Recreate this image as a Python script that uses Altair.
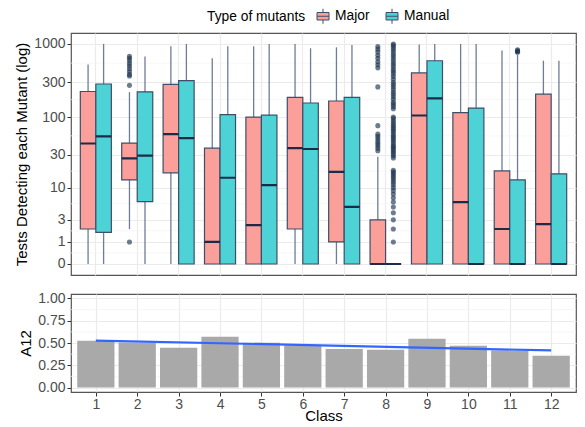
import altair as alt
import pandas as pd

classes = list(range(1, 13))
types = ["Major", "Manual"]

# boxplot summary statistics
major_lo = [0, 2, 0, 0, 0, 0, 0, 0, 0, 0, 0, 0]
major_q1 = [2, 13, 16.5, 0, 0, 2, 1, 0, 0, 0, 0, 0]
major_med = [43, 26.5, 58, 1, 2.4, 37, 17, 0, 105, 6, 2, 2.5]
major_q3 = [224, 43.5, 281, 37, 100, 186, 166, 3, 403, 115, 17.6, 206]
major_hi = [523, 220, 928, 640, 930, 1000, 900, 28, 985, 1000, 818, 592]

manual_lo = [0, 0, 0, 0, 0, 0, 0, 0, 0, 0, 0, 0]
manual_q1 = [1.7, 6.1, 0, 0, 0, 0, 0, 0, 0, 0, 0, 0]
manual_med = [54, 29, 51, 14, 10.9, 36, 5, 0, 180, 0, 0, 0]
manual_q3 = [284, 222, 315, 108, 106, 156, 186, 0, 590, 133, 13, 16]
manual_hi = [1000, 677, 1000, 928, 1000, 875, 968, 0, 1000, 1000, 710, 592]

# outliers
out_c2_major = [1, 272, 365, 384, 420, 460, 500, 540, 590, 640, 677]
out_c8_major = [34, 37, 40, 43, 46, 50, 54, 58, 76, 259, 472, 520, 570, 640, 700, 780, 850, 925]
out_c8_manual = [1, 2, 3, 4, 5, 6, 7, 8, 9, 10, 11, 12, 13, 14, 15, 16, 17, 18,
                 27, 29, 31, 33, 35, 37, 39, 41, 44, 47, 50, 53, 56, 60, 64, 68, 72, 77,
                 82, 88, 95, 100, 130, 140, 150, 160, 175, 190, 205, 220, 240, 260, 280,
                 300, 330, 360, 390, 420, 450, 490, 530, 570, 620, 670, 720, 780, 840,
                 900, 960, 1000]
out_c11_manual = [770, 790, 810, 830]

# A12 effect size per class
a12 = [0.524, 0.505, 0.446, 0.569, 0.502, 0.476, 0.434, 0.423, 0.547, 0.468, 0.416, 0.356]

y_ticks = [0, 1, 3, 10, 30, 100, 300, 1000]
y_minor = [0.414, 1.83, 5.63, 17.47, 54.97, 173.4, 548]
a_ticks = [0, 0.25, 0.5, 0.75, 1.0]
a_minor = [0.125, 0.375, 0.625, 0.875]

rows = []
for i, c in enumerate(classes):
    rows.append(dict(cls=c, type="Major", lo=major_lo[i], q1=major_q1[i], med=major_med[i],
                     q3=major_q3[i], hi=major_hi[i]))
    rows.append(dict(cls=c, type="Manual", lo=manual_lo[i], q1=manual_q1[i], med=manual_med[i],
                     q3=manual_q3[i], hi=manual_hi[i]))
box_df = pd.DataFrame(rows)

orows = []
for v in out_c2_major:
    orows.append(dict(cls=2, type="Major", v=v))
for v in out_c8_major:
    orows.append(dict(cls=8, type="Major", v=v))
for v in out_c8_manual:
    orows.append(dict(cls=8, type="Manual", v=v))
for v in out_c11_manual:
    orows.append(dict(cls=11, type="Manual", v=v))
out_df = pd.DataFrame(orows)

a_df = pd.DataFrame(dict(cls=classes, a12=a12))

FONT = "Liberation Sans"
GRID = "#EBEBEB"
MINOR = "#F3F3F3"

x_band = alt.X("cls:O", scale=alt.Scale(domain=classes, paddingInner=0.25, paddingOuter=0.225),
               axis=alt.Axis(labels=False, ticks=False, domain=False, title=None, grid=True,
                             gridColor=GRID, gridWidth=1.2, bandPosition=0.5))
x_off = alt.XOffset("type:N", scale=alt.Scale(domain=types, paddingInner=0, paddingOuter=0))
y_scale = alt.Scale(type="symlog", constant=1, domain=[-0.4126, 1412.5], nice=False, zero=False)
y_axis = alt.Axis(values=y_ticks, format="d", title="Tests Detecting each Mutant (log)",
                  grid=True, gridColor=GRID, gridWidth=1.2, labelOverlap=False)

W, H1, H2 = 505, 242, 98

minor_top = alt.Chart(pd.DataFrame(dict(v=y_minor))).mark_rule(color=MINOR, strokeWidth=0.7).encode(
    y=alt.Y("v:Q", scale=y_scale, axis=y_axis)
)

whisk = alt.Chart(box_df).mark_rule(color="#6E7D95", strokeWidth=1.3).encode(
    x=x_band, xOffset=x_off,
    y=alt.Y("lo:Q", scale=y_scale, axis=y_axis),
    y2="hi:Q",
)

boxes = alt.Chart(box_df).mark_bar(stroke="#3F4E68", strokeWidth=1.2).encode(
    x=x_band, xOffset=x_off,
    y=alt.Y("q1:Q", scale=y_scale, axis=y_axis),
    y2="q3:Q",
    fill=alt.Fill("type:N", scale=alt.Scale(domain=types, range=["#FA9F99", "#4DD2D6"]),
                  legend=alt.Legend(
                      title="Type of mutants", orient="none", direction="horizontal",
                      legendX=136, legendY=-25, titleOrient="left",
                      symbolType="M-0.8,-0.5H0.8V0.5H-0.8Z M-0.8,0H0.8 M0,-0.5V-1 M0,0.5V1",
                      symbolSize=225, symbolStrokeColor="#3F4E68", symbolStrokeWidth=1,
                      symbolOpacity=1, labelFontSize=13.8, titleFontSize=13.8,
                      titleFontWeight="normal", titleColor="black", labelColor="black",
                      labelFont=FONT, titleFont=FONT, columnPadding=14, titlePadding=9,
                      labelOffset=4, padding=0)),
)

medians = alt.Chart(box_df).mark_bar(stroke="#1C2C48", strokeWidth=2.2, fillOpacity=0).encode(
    x=x_band, xOffset=x_off,
    y=alt.Y("med:Q", scale=y_scale, axis=y_axis),
    y2="med:Q",
)

outs = alt.Chart(out_df).mark_circle(color="#1F3552", opacity=0.65, size=26).encode(
    x=x_band, xOffset=x_off,
    y=alt.Y("v:Q", scale=y_scale, axis=y_axis),
)

top = alt.layer(minor_top, whisk, boxes, medians, outs).properties(width=W, height=H1)

x_q = alt.Scale(domain=[0.4, 12.6], nice=False, zero=False)
a_scale = alt.Scale(domain=[-0.05, 1.05], nice=False)
a_axis = alt.Axis(values=a_ticks, format=".2f", title="A12", grid=True,
                  gridColor=GRID, gridWidth=1.2, labelOverlap=False)
x_axis = alt.Axis(values=classes, format="d", title="Class", grid=True,
                  gridColor=GRID, gridWidth=1.2, labelOverlap=False,
                  titlePadding=-3, labelPadding=1)

minor_bot = alt.Chart(pd.DataFrame(dict(v=a_minor))).mark_rule(color=MINOR, strokeWidth=0.7).encode(
    y=alt.Y("v:Q", scale=a_scale, axis=a_axis)
)

bars = alt.Chart(a_df).transform_calculate(
    x0="datum.cls - 0.45", x1="datum.cls + 0.45"
).mark_bar(color="#A9A9A9").encode(
    x=alt.X("x0:Q", scale=x_q, axis=x_axis),
    x2="x1:Q",
    y=alt.Y("a12:Q", scale=a_scale, axis=a_axis),
    y2=alt.datum(0),
)

reg = alt.Chart(a_df).transform_regression("cls", "a12", method="linear").mark_line(
    color="#3366FF", strokeWidth=2.2
).encode(
    x=alt.X("cls:Q", scale=x_q, axis=x_axis),
    y=alt.Y("a12:Q", scale=a_scale, axis=a_axis),
)

bottom = alt.layer(minor_bot, bars, reg).properties(width=W, height=H2)

chart = alt.vconcat(top, bottom, spacing=14).resolve_scale(x="independent").properties(
    padding={"left": 6, "top": 0, "right": 0, "bottom": 0}
).configure(
    font=FONT
).configure_view(
    stroke="#555555", strokeWidth=1.2
).configure_axis(
    labelFont=FONT, titleFont=FONT, labelFontSize=14, titleFontSize=15,
    labelColor="#4D4D4D", titleColor="black", titleFontWeight="normal",
    tickColor="#333333", tickSize=4, tickWidth=1, domain=False, labelPadding=2,
    titlePadding=4, labelOverlap=False
)

chart.save("out.html", embed_options={"renderer": "svg", "actions": False})
